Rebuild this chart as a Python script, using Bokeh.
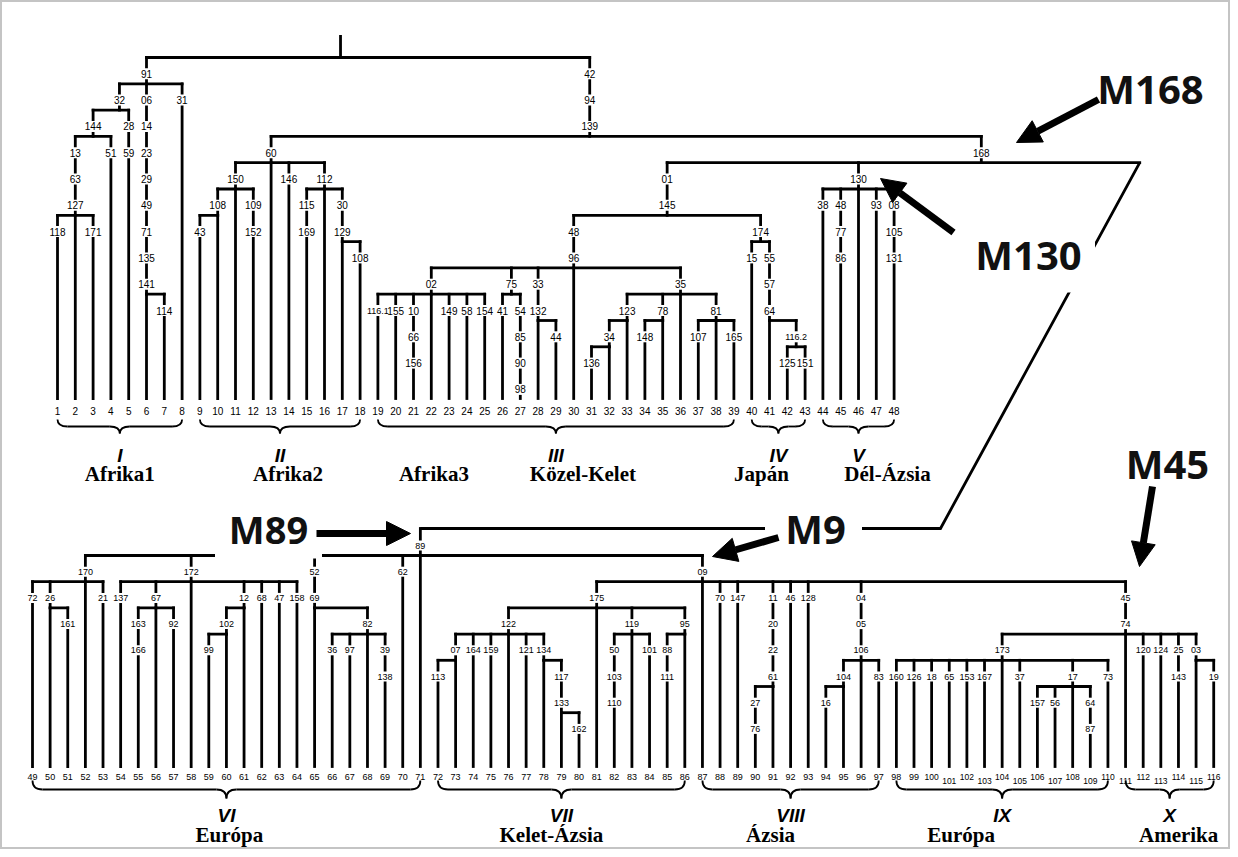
from bokeh.plotting import figure
from bokeh.models import Range1d, Arrow, NormalHead
from bokeh.core.properties import value
from bokeh.embed import file_html
from bokeh.resources import INLINE

# ======================= DATA =======================
# Upper tree (leaves 1-48) - internal nodes: id, parent, marker chain (top to bottom)
TOP_INNER_ID = ["R", "n91", "n32", "n144", "n127", "n141", "n139", "n60", "n150",
                "n108", "n112", "n129", "n168", "n145", "n96", "n02", "n75", "n132",
                "n35", "n123", "n34", "n78", "n81", "n174", "n64", "n1162", "n130"]
TOP_INNER_PARENT = ["", "R", "n91", "n32", "n144", "n91", "R", "n139", "n60",
                    "n150", "n60", "n112", "n139", "n168", "n145", "n96", "n96", "n96",
                    "n96", "n35", "n123", "n35", "n35", "n145", "n174", "n64", "n168"]
TOP_INNER_MARKERS = ["", "91", "32", "144", "13 63 127", "06 14 23 29 49 71 135 141",
                     "42 94 139", "60", "150", "108", "112", "30 129", "168", "01 145",
                     "48 96", "02", "75", "33 132", "35", "123", "34", "78", "81", "174",
                     "55 57 64", "116.2", "130"]
# leaves 1..48: parent node and marker chain
TOP_LEAF_FIRST = 1
TOP_LEAF_PARENT = ["n127", "n127", "n127", "n144", "n32", "n141", "n141", "n91",
                   "n108", "n108", "n150", "n150", "n60", "n60", "n112", "n112", "n129", "n129",
                   "n02", "n02", "n02", "n02", "n02", "n02", "n02", "n75", "n75", "n132", "n132",
                   "n96", "n34", "n34", "n123", "n78", "n78", "n35", "n81", "n81", "n81",
                   "n174", "n64", "n1162", "n1162",
                   "n130", "n130", "n130", "n130", "n130"]
TOP_LEAF_MARKERS = ["118", "", "171", "51", "28 59", "", "114", "31",
                    "43", "", "", "109 152", "", "146", "115 169", "", "", "108",
                    "116.1", "155", "10 66 156", "", "149", "58", "154", "41", "54 85 90 98",
                    "", "44", "", "136", "", "", "148", "", "", "107", "", "165",
                    "15", "", "125", "151",
                    "38", "48 77 86", "", "93", "08 105 131"]

# Lower tree (leaves 49-116)
BOT_INNER_ID = ["n89", "n170", "n26", "n172", "n67", "n12", "n102", "n69", "n82", "n09",
                "n175", "n122", "n07", "n134", "n133", "n119", "n95", "n61", "n106",
                "n104", "n74", "n173", "n17", "n03"]
BOT_INNER_PARENT = ["", "n89", "n170", "n89", "n172", "n172", "n12", "n89", "n69", "n89",
                    "n09", "n175", "n122", "n122", "n134", "n175", "n175", "n09", "n09",
                    "n106", "n09", "n74", "n173", "n74"]
BOT_INNER_MARKERS = ["89", "170", "26", "172", "67", "12", "102", "52 69", "82", "09",
                     "175", "122", "07", "134", "117 133", "119", "95", "11 20 22 61",
                     "04 05 106", "104", "45 74", "173", "17", "03"]
BOT_LEAF_FIRST = 49
BOT_LEAF_PARENT = ["n170", "n26", "n26", "n170", "n170",
                   "n172", "n67", "n67", "n67", "n172", "n102", "n102", "n12", "n172", "n172", "n172",
                   "n69", "n82", "n82", "n82", "n82", "n89", "n89",
                   "n07", "n07", "n122", "n122", "n122", "n122", "n134", "n133", "n133", "n175",
                   "n119", "n119", "n119", "n95", "n95",
                   "n09", "n09", "n09", "n61", "n61", "n09", "n09", "n104", "n104", "n106", "n106",
                   "n173", "n173", "n173", "n173", "n173", "n173", "n173", "n173", "n17", "n17",
                   "n17", "n17", "n173",
                   "n74", "n74", "n74", "n74", "n03", "n03"]
BOT_LEAF_MARKERS = ["72", "", "161", "", "21",
                    "137", "163 166", "", "92", "", "99", "", "", "68", "47", "158",
                    "", "36", "97", "", "39 138", "62", "",
                    "113", "", "164", "159", "", "121", "", "", "162", "", "50 103 110", "",
                    "101", "88 111", "",
                    "", "70", "147", "27 76", "", "46", "128", "16", "", "", "83",
                    "160", "126", "18", "65", "153", "167", "", "37", "157", "56", "", "64 87", "73",
                    "", "120", "124", "25 143", "", "19"]

# Haplogroup clusters
GROUP_ROMAN = ["I", "II", "III", "IV", "V", "VI", "VII", "VIII", "IX", "X"]
GROUP_FIRST = [1, 9, 19, 40, 44, 49, 72, 87, 98, 111]
GROUP_LAST = [8, 18, 39, 43, 48, 71, 86, 97, 110, 116]
GROUP_NAME = ["Afrika1", "Afrika2", "Afrika3 Közel-Kelet", "Japán", "Dél-Ázsia",
              "Európa", "Kelet-Ázsia", "Ázsia", "Európa", "Amerika"]

# Highlighted markers
ANNOT_TEXT = ["M168", "M130", "M89", "M9", "M45"]

# ======================= LAYOUT =======================
W, H = 1230, 849
p = figure(width=W, height=H, x_range=Range1d(0, W), y_range=Range1d(H, 0),
           output_backend="svg", toolbar_location=None, min_border=0,
           x_axis_type=None, y_axis_type=None)
p.grid.visible = False
p.outline_line_color = "#c4c4c4"
p.outline_line_width = 3
p.background_fill_color = "white"
p.border_fill_color = "white"

BAR_DY = 10
LW = 2.8


def build(inner_id, inner_parent, inner_markers, leaf_first, leaf_parent, leaf_markers,
          xleaf, rowy, leaf_bottom, anchors, stem_top):
    nodes = {}
    for nid, par, mk in zip(inner_id, inner_parent, inner_markers):
        nodes[nid] = dict(parent=par, markers=mk.split(), leaf=None, children=[])
    for k, (par, mk) in enumerate(zip(leaf_parent, leaf_markers)):
        num = leaf_first + k
        nodes["L%d" % num] = dict(parent=par, markers=mk.split(), leaf=num, children=[])
    root = None
    for nid, nd in nodes.items():
        if nd["parent"]:
            nodes[nd["parent"]]["children"].append(nid)
        else:
            root = nid

    def minleaf(n):
        nd = nodes[n]
        if nd["leaf"] is not None:
            return nd["leaf"]
        return min(minleaf(c) for c in nd["children"])

    for nd in nodes.values():
        nd["children"].sort(key=minleaf)

    def setx(n):
        nd = nodes[n]
        if nd["leaf"] is not None:
            nd["x"] = xleaf(nd["leaf"])
            return nd["x"]
        ch = nd["children"]
        xs = [setx(c) for c in ch]
        if n in anchors:
            nd["x"] = xleaf(anchors[n])
        else:
            star = [c for c in ch if nodes[c]["leaf"] is not None and not nodes[c]["markers"]]
            if star:
                nd["x"] = nodes[star[0]]["x"]
            elif len(ch) % 2 == 1:
                nd["x"] = xs[len(ch) // 2]
            else:
                nd["x"] = (xs[0] + xs[-1]) / 2
        nd["bar"] = [min(xs), max(xs)]
        return nd["x"]

    setx(root)

    def setrow(n, prow, ptop):
        nd = nodes[n]
        nd["rows"] = [prow + 1 + i for i in range(len(nd["markers"]))]
        brow = prow + len(nd["markers"])
        nd["top"] = ptop
        if nd["leaf"] is not None:
            nd["bottom"] = leaf_bottom
        else:
            nd["bottom"] = rowy(brow) + BAR_DY
            for c in nd["children"]:
                setrow(c, brow, nd["bottom"])

    setrow(root, -len(nodes[root]["markers"]), stem_top)
    return nodes, root


def top_x(i):
    return 57 + (i - 1) * 17.8


def bot_x(i):
    return 32 + (i - 49) * 17.63


def top_row(r):
    return 47 + 26.3 * r


def bot_row(r):
    return 545 + 26.2 * r


TOP_BOTTOM, BOT_BOTTOM = 398, 766
top_nodes, top_root = build(TOP_INNER_ID, TOP_INNER_PARENT, TOP_INNER_MARKERS,
                            TOP_LEAF_FIRST, TOP_LEAF_PARENT, TOP_LEAF_MARKERS,
                            top_x, top_row, TOP_BOTTOM,
                            {"R": 16.9, "n139": 30.9, "n168": 52.9, "n32": 4.48}, 36)
CONNECT_X = top_x(61.8)
CONNECT_Y = 528
top_nodes["n168"]["bar"][1] = CONNECT_X
bot_nodes, bot_root = build(BOT_INNER_ID, BOT_INNER_PARENT, BOT_INNER_MARKERS,
                            BOT_LEAF_FIRST, BOT_LEAF_PARENT, BOT_LEAF_MARKERS,
                            bot_x, bot_row, BOT_BOTTOM, {}, CONNECT_Y)

sx0, sy0, sx1, sy1 = [], [], [], []
lab = {"top": ([], [], []), "bot": ([], [], [])}
for key, nodes, rowy in (("top", top_nodes, top_row), ("bot", bot_nodes, bot_row)):
    for nid, nd in nodes.items():
        sx0.append(nd["x"]); sy0.append(nd["top"]); sx1.append(nd["x"]); sy1.append(nd["bottom"])
        if nd["leaf"] is None:
            sx0.append(nd["bar"][0]); sx1.append(nd["bar"][1])
            sy0.append(nd["bottom"]); sy1.append(nd["bottom"])
        for m, r in zip(nd["markers"], nd["rows"]):
            lab[key][0].append(nd["x"]); lab[key][1].append(rowy(r)); lab[key][2].append(m)

p.segment(sx0, sy0, sx1, sy1, line_color="black", line_width=LW, line_cap="square")
# connector from the M168 bar of the upper tree down to the M89 stem of the lower tree
b168 = top_nodes["n168"]["bottom"]
p.line([CONNECT_X, 940, bot_nodes["n89"]["x"]], [b168, CONNECT_Y, CONNECT_Y],
       line_color="black", line_width=LW, line_join="miter")

FONT = value("Liberation Sans")
for key, fs, cw, bh in (("top", 10, 5.6, 11), ("bot", 9, 5.0, 10)):
    xs, ys, ts = lab[key]
    fsz = [("%dpx" % (fs - 1)) if len(t) >= 5 else ("%dpx" % fs) for t in ts]
    p.rect(xs, ys, width=[len(t) * cw + 3 for t in ts], height=bh,
           fill_color="white", line_color=None)
    p.text(xs, ys, text=ts, text_align="center", text_baseline="middle",
           text_font=FONT, text_font_size=fsz, text_color="black")

# leaf numbers
tl = list(range(1, 49))
p.text([top_x(i) for i in tl], [410] * len(tl), text=[str(i) for i in tl],
       text_align="center", text_baseline="middle", text_font=FONT, text_font_size="10px")
bl = list(range(49, 117))
p.text([bot_x(i) for i in bl], [776 + (4 if (i >= 100 and i % 2 == 1) else 0) for i in bl],
       text=[str(i) for i in bl], text_align="center", text_baseline="middle",
       text_font=FONT, text_font_size=["9px" if i < 100 else "8.5px" for i in bl])

# braces, numerals and region names
qx0, qy0, qx1, qy1, qcx, qcy = [], [], [], [], [], []
lx0, ly0, lx1, ly1 = [], [], [], []
rx, ry, rt = [], [], []
nx, ny, nt = [], [], []
NAME_DX = [0, 8, 0, -17, 29, 3, -10, -20, -41, 9]
for g, (a, b) in enumerate(zip(GROUP_FIRST, GROUP_LAST)):
    top = b <= 48
    xf = top_x if top else bot_x
    x0, x1 = xf(a), xf(b)
    y, h = (419, 14) if top else (780, 18)
    xm, ym, r = (x0 + x1) / 2, y + h / 2, 10
    qx0 += [x0, xm - r, xm, x1]; qy0 += [y, ym, y + h, y]
    qx1 += [x0 + r, xm, xm + r, x1 - r]; qy1 += [ym, y + h, ym, ym]
    qcx += [x0, xm, xm, x1]; qcy += [ym] * 4
    lx0 += [x0 + r, xm + r]; lx1 += [xm - r, x1 - r]; ly0 += [ym, ym]; ly1 += [ym, ym]
    rx.append(xm); ry.append(455 if top else 815); rt.append(GROUP_ROMAN[g])
    words = GROUP_NAME[g].split(" ")
    offs = [NAME_DX[g]] if len(words) == 1 else [-122, 27]
    for wd, o in zip(words, offs):
        nx.append(xm + o); ny.append(473 if top else 834); nt.append(wd)
p.quadratic(qx0, qy0, qx1, qy1, qcx, qcy, line_color="black", line_width=1.8)
p.segment(lx0, ly0, lx1, ly1, line_color="black", line_width=1.8)
p.text(rx, ry, text=rt, text_align="center", text_baseline="middle",
       text_font=value("Liberation Sans"), text_font_style="bold italic", text_font_size="19px")
p.text(nx, ny, text=nt, text_align="center", text_baseline="middle",
       text_font=value("Liberation Serif"), text_font_style="bold", text_font_size="21px")

# highlighted markers: white label boxes (they hide parts of the lines), labels, arrows
BOX_X = [1150, 1028, 268, 813, 1167]
BOX_Y = [87, 262, 532, 527, 462]
BOX_W = [130, 133, 107, 97, 85]
BOX_H = [44, 60, 52, 42, 44]
p.rect(BOX_X, BOX_Y, width=BOX_W, height=BOX_H, fill_color="white", line_color=None)
TXT_X = [1150, 1028, 268, 815, 1167]
TXT_Y = [88, 254, 528, 528, 463]
p.text(TXT_X, TXT_Y, text=ANNOT_TEXT, text_align="center", text_baseline="middle",
       text_font=value("Open Sans"), text_font_style="bold",
       text_font_size=["40px", "40px", "38px", "40px", "40px"], text_color="#111111")
ARROWS = [(1098, 99, 1016, 142), (953, 232, 880, 178), (316, 533, 410, 533),
          (778, 537, 712, 556), (1152, 486, 1139, 566)]
for xs_, ys_, xe_, ye_ in ARROWS:
    p.add_layout(Arrow(end=NormalHead(size=24, fill_color="black", line_color="black"),
                       x_start=xs_, y_start=ys_, x_end=xe_, y_end=ye_,
                       line_color="black", line_width=7))

open("out.html", "w").write(file_html(p, INLINE))
